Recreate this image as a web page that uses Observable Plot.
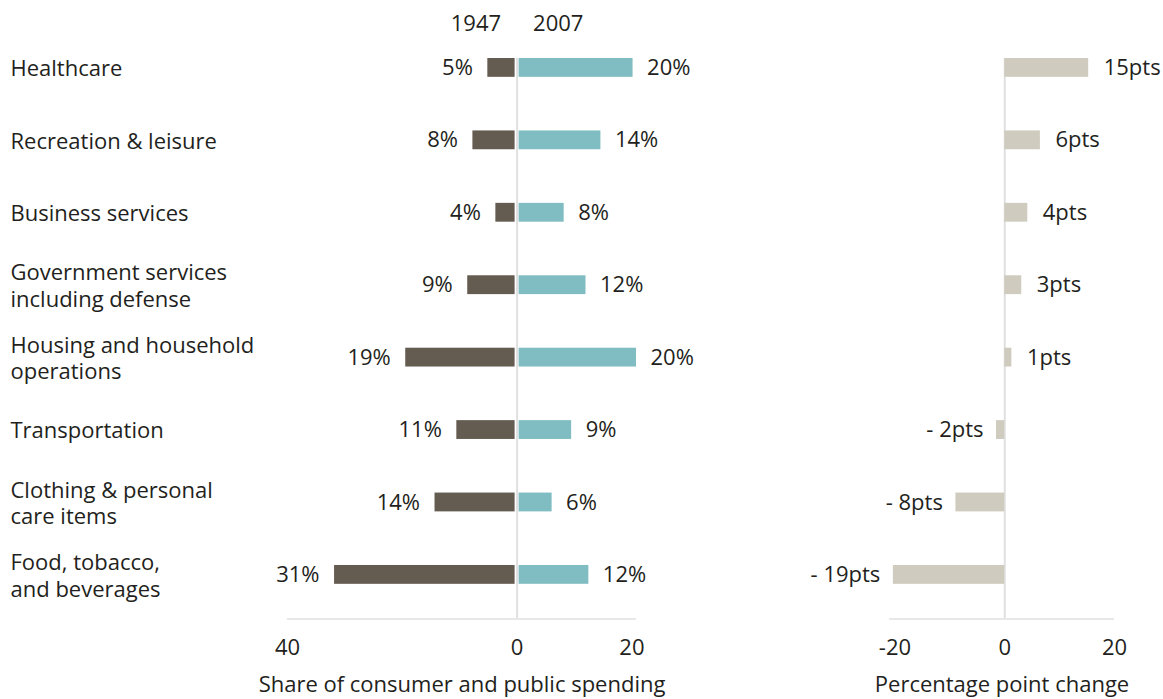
<!DOCTYPE html>
<html>
<head>
<meta charset="utf-8">
<script src="https://cdn.jsdelivr.net/npm/d3@7"></script>
<script src="https://cdn.jsdelivr.net/npm/@observablehq/plot@0.6"></script>
<style>
  body { margin: 0; background: #fff; }
  #wrap { position: relative; width: 1163px; height: 699px; }
  #left, #right { position: absolute; top: 0; }
  #left { left: 0; }
  #right { left: 720px; }
</style>
</head>
<body>
<div id="wrap"><div id="left"></div><div id="right"></div></div>
<script>
const categories = [
  "Healthcare",
  "Recreation & leisure",
  "Business services",
  "Government services\nincluding defense",
  "Housing and household\noperations",
  "Transportation",
  "Clothing & personal\ncare items",
  "Food, tobacco,\nand beverages"
];
const share1947 = [5.1, 7.7, 3.7, 8.6, 19.4, 10.5, 14.3, 31.8];
const share2007 = [20.2, 14.6, 8.2, 12.0, 20.8, 9.5, 6.1, 12.5];
const labels1947 = ["5%", "8%", "4%", "9%", "19%", "11%", "14%", "31%"];
const labels2007 = ["20%", "14%", "8%", "12%", "20%", "9%", "6%", "12%"];
const change = [15.3, 6.5, 4.2, 3.1, 1.3, -1.5, -8.9, -20.3];
const changeLabels = ["15pts", "6pts", "4pts", "3pts", "1pts", "- 2pts", "- 8pts", "- 19pts"];
const years = ["1947", "2007"];
const leftTicks = [-40, 0, 20];
const rightTicks = [-20, 0, 20];
const leftTitle = "Share of consumer and public spending";
const rightTitle = "Percentage point change";

const rows = categories.map((c, i) => ({
  category: c, v1947: share1947[i], v2007: share2007[i],
  l1947: labels1947[i], l2007: labels2007[i],
  change: change[i], changeLabel: changeLabels[i]
}));

const FONT = "'Open Sans', sans-serif";
const FS = 22;
const TEXT = "#231f20";
const C1947 = "#645b51";
const C2007 = "#80bdc3";
const CCHG = "#cfccbf";
const GRID = "#e0e0e0";

const yScale = {
  domain: categories, paddingInner: 0.74, paddingOuter: 0.236, align: 0, round: false, axis: null
};
const lastCat = categories[categories.length - 1];

const leftDomain = [leftTicks[0], d3.max(share2007)];
const left = Plot.plot({
  width: 720, height: 699,
  marginLeft: 287, marginRight: 84, marginTop: 58, marginBottom: 81,
  style: { fontFamily: FONT, fontSize: FS + "px", color: TEXT, background: "transparent" },
  x: { domain: leftDomain, axis: null },
  y: yScale,
  marks: [
    Plot.ruleX([0], { stroke: GRID, strokeWidth: 2 }),
    Plot.ruleY([lastCat], { x1: leftDomain[0], x2: leftDomain[1], dy: 44, stroke: GRID, strokeWidth: 1.5 }),
    Plot.barX(rows, { y: "category", x1: d => -d.v1947, x2: 0, fill: C1947, insetRight: 2 }),
    Plot.barX(rows, { y: "category", x1: 0, x2: "v2007", fill: C2007, insetLeft: 2 }),
    Plot.text(rows, { y: "category", x: d => -d.v1947, text: "l1947", textAnchor: "end", dx: -15, fill: TEXT, fontSize: FS }),
    Plot.text(rows, { y: "category", x: "v2007", text: "l2007", textAnchor: "start", dx: 14, fill: TEXT, fontSize: FS }),
    Plot.text(rows, { y: "category", text: "category", frameAnchor: "left", textAnchor: "start", dx: -277, lineHeight: 1.2, fill: TEXT, fontSize: FS }),
    Plot.text([years[0]], { x: 0, frameAnchor: "top", textAnchor: "end", dx: -16, dy: -43, fill: TEXT, fontSize: FS }),
    Plot.text([years[1]], { x: 0, frameAnchor: "top", textAnchor: "start", dx: 16, dy: -43, fill: TEXT, fontSize: FS }),
    Plot.text(leftTicks, { x: d => d, text: d => String(Math.abs(d)), frameAnchor: "bottom", dy: 36, fill: TEXT, fontSize: FS }),
    Plot.text([leftTitle], { frameAnchor: "bottom", dy: 73, fill: TEXT, fontSize: FS })
  ]
});
document.getElementById("left").appendChild(left);

const rightDomain = [-21, 20];
const right = Plot.plot({
  width: 443, height: 699,
  marginLeft: 169, marginRight: 49, marginTop: 58, marginBottom: 81,
  style: { fontFamily: FONT, fontSize: FS + "px", color: TEXT, background: "transparent" },
  x: { domain: rightDomain, axis: null },
  y: yScale,
  marks: [
    Plot.ruleX([0], { stroke: GRID, strokeWidth: 2 }),
    Plot.ruleY([lastCat], { x1: rightDomain[0], x2: rightDomain[1], dy: 44, stroke: GRID, strokeWidth: 1.5 }),
    Plot.barX(rows, { y: "category", x1: 0, x2: "change", fill: CCHG }),
    Plot.text(rows.filter(d => d.change >= 0), { y: "category", x: "change", text: "changeLabel", textAnchor: "start", dx: 15, fill: TEXT, fontSize: FS }),
    Plot.text(rows.filter(d => d.change < 0), { y: "category", x: "change", text: "changeLabel", textAnchor: "end", dx: -13, fill: TEXT, fontSize: FS }),
    Plot.text(rightTicks, { x: d => d, text: d => String(d), frameAnchor: "bottom", dy: 36, fill: TEXT, fontSize: FS }),
    Plot.text([rightTitle], { frameAnchor: "bottom", dy: 73, fill: TEXT, fontSize: FS })
  ]
});
document.getElementById("right").appendChild(right);
</script>
</body>
</html>
